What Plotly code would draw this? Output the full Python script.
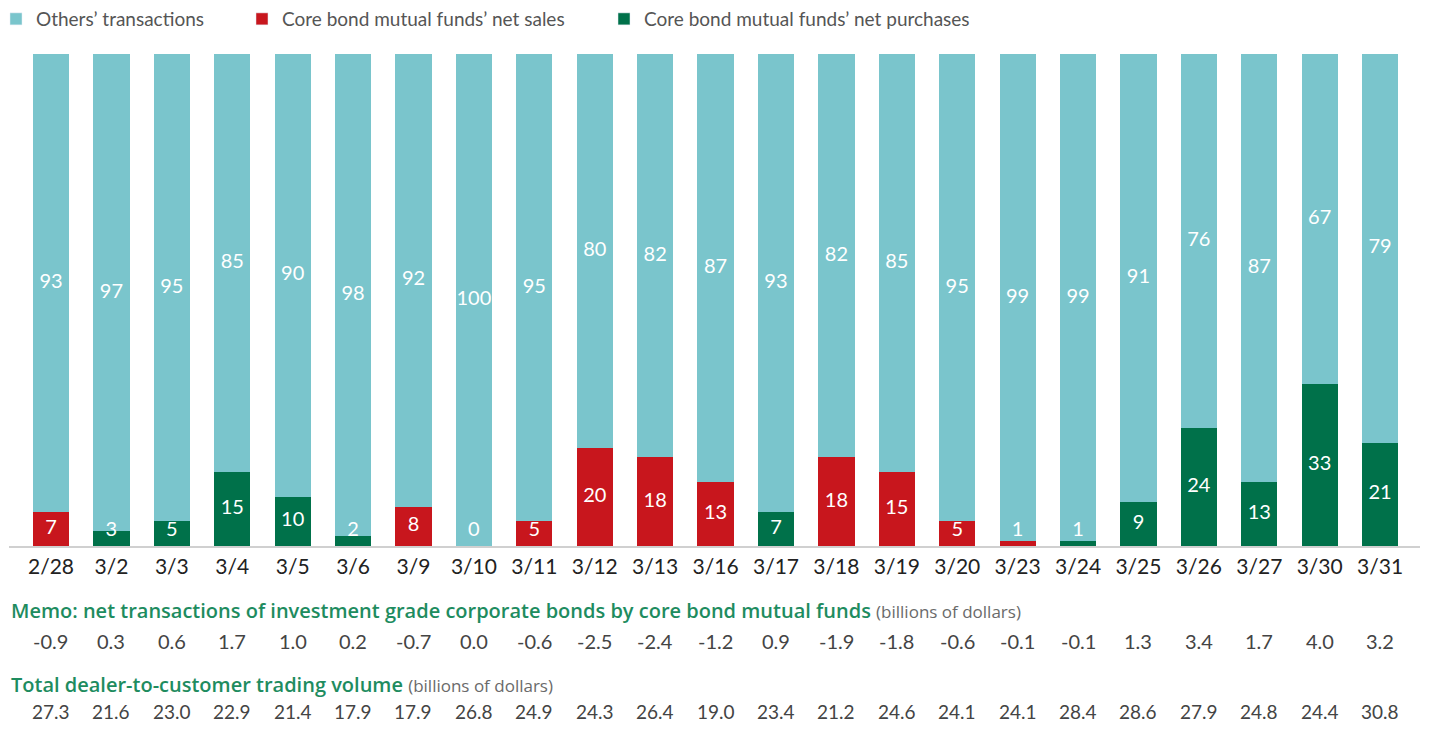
import plotly.graph_objects as go

dates = ["2/28", "3/2", "3/3", "3/4", "3/5", "3/6", "3/9", "3/10", "3/11", "3/12", "3/13",
         "3/16", "3/17", "3/18", "3/19", "3/20", "3/23", "3/24", "3/25", "3/26", "3/27", "3/30", "3/31"]
others = [93, 97, 95, 85, 90, 98, 92, 100, 95, 80, 82, 87, 93, 82, 85, 95, 99, 99, 91, 76, 87, 67, 79]
net_sales = [7, 0, 0, 0, 0, 0, 8, 0, 5, 20, 18, 13, 0, 18, 15, 5, 1, 0, 0, 0, 0, 0, 0]
net_purchases = [0, 3, 5, 15, 10, 2, 0, 0, 0, 0, 0, 0, 7, 0, 0, 0, 0, 1, 9, 24, 13, 33, 21]
memo_net = ["-0.9", "0.3", "0.6", "1.7", "1.0", "0.2", "-0.7", "0.0", "-0.6", "-2.5", "-2.4",
            "-1.2", "0.9", "-1.9", "-1.8", "-0.6", "-0.1", "-0.1", "1.3", "3.4", "1.7", "4.0", "3.2"]
total_volume = ["27.3", "21.6", "23.0", "22.9", "21.4", "17.9", "17.9", "26.8", "24.9", "24.3", "26.4",
                "19.0", "23.4", "21.2", "24.6", "24.1", "24.1", "28.4", "28.6", "27.9", "24.8", "24.4", "30.8"]

TEAL = "#7AC5CC"
RED = "#C8161D"
GREEN = "#00714A"
TITLE_GREEN = "#1E8C5F"
FONT = "Lato"
TFONT = "Open Sans"

fig = go.Figure()
fig.add_trace(go.Bar(x=dates, y=net_sales, name="Core bond mutual funds\u2019 net sales",
                     marker=dict(color=RED, line_width=0), width=0.6, showlegend=False))
fig.add_trace(go.Bar(x=dates, y=net_purchases, name="Core bond mutual funds\u2019 net purchases",
                     marker=dict(color=GREEN, line_width=0), width=0.6, showlegend=False))
fig.add_trace(go.Bar(x=dates, y=others, name="Others\u2019 transactions",
                     marker=dict(color=TEAL, line_width=0), width=0.6, showlegend=False))

# legend entries in reference order, each in its own legend box
for nm, col, lg in [("Others\u2019 transactions", TEAL, "legend"),
                    ("Core bond mutual funds\u2019 net sales", RED, "legend2"),
                    ("Core bond mutual funds\u2019 net purchases", GREEN, "legend3")]:
    fig.add_trace(go.Bar(x=[None], y=[None], name=nm, marker=dict(color=col),
                         showlegend=True, legend=lg))

core = [s + p for s, p in zip(net_sales, net_purchases)]
core_y = [max(c / 2, 3) for c in core]
others_y = [c + o / 2 for c, o in zip(core, others)]

fig.add_trace(go.Scatter(x=dates, y=core_y, mode="text", text=[str(c) for c in core],
                         textfont=dict(color="white", size=20, family=FONT),
                         showlegend=False, hoverinfo="skip"))
fig.add_trace(go.Scatter(x=dates, y=others_y, mode="text", text=[str(o) for o in others],
                         textfont=dict(color="white", size=20, family=FONT),
                         showlegend=False, hoverinfo="skip"))

annotations = []
annotations.append(dict(xref="paper", yref="paper", x=0.0, y=-0.132, xanchor="left", yanchor="middle",
                        showarrow=False, align="left",
                        text="Memo: net transactions of investment grade corporate bonds by core bond mutual funds"
                             " <span style='color:#6a6a6a;font-size:17px;font-weight:400'>(billions of dollars)</span>",
                        font=dict(color=TITLE_GREEN, size=20, family=TFONT, weight=600)))
annotations.append(dict(xref="paper", yref="paper", x=0.0, y=-0.2805, xanchor="left", yanchor="middle",
                        showarrow=False, align="left",
                        text="Total dealer-to-customer trading volume"
                             " <span style='color:#6a6a6a;font-size:17px;font-weight:400'>(billions of dollars)</span>",
                        font=dict(color=TITLE_GREEN, size=20, family=TFONT, weight=600)))
for d, m, t in zip(dates, memo_net, total_volume):
    annotations.append(dict(x=d, xref="x", yref="paper", y=-0.193, text=m, showarrow=False,
                            xanchor="center", yanchor="middle",
                            font=dict(color="#444", size=20, family=FONT)))
    annotations.append(dict(x=d, xref="x", yref="paper", y=-0.336, text=t, showarrow=False,
                            xanchor="center", yanchor="middle",
                            font=dict(color="#444", size=19, family=FONT)))

legfont = dict(size=19, color="#555", family=FONT)
legcommon = dict(orientation="h", xref="container", yref="container", xanchor="left",
                 y=0.9846, yanchor="middle", font=legfont)
fig.update_layout(
    width=1413, height=715,
    barmode="stack",
    bargap=0.4,
    plot_bgcolor="white", paper_bgcolor="white",
    margin=dict(l=1, r=1, t=46, b=177),
    font=dict(family=FONT, color="#333"),
    legend=dict(x=0.0, indentation=-12, **legcommon),
    legend2=dict(x=0.1656, **legcommon),
    legend3=dict(x=0.4218, **legcommon),
    xaxis=dict(type="category", range=[-0.695, 22.66], showgrid=False, showline=True,
               linecolor="#D0D0D0", linewidth=2, ticks="", tickfont=dict(size=21, color="#222", family=FONT),
               ticklabelstandoff=1),
    yaxis=dict(range=[0, 100], visible=False, showgrid=False, zeroline=False),
    annotations=annotations,
)

fig.write_html("out.html")
